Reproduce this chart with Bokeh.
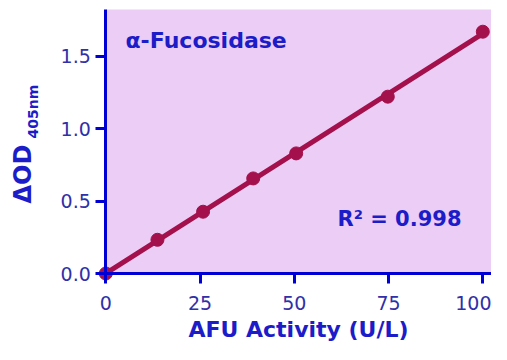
import numpy as np
from bokeh.plotting import figure
from bokeh.models import (Label, FixedTicker, NumeralTickFormatter, Range1d,
                          LinearAxis, BoxAnnotation)
from bokeh.embed import file_html
from bokeh.resources import INLINE

# Data
activity = [0, 13.7, 25.8, 39.1, 50.5, 74.8, 100]          # AFU activity (U/L)
delta_od = [0, 0.233, 0.427, 0.657, 0.830, 1.222, 1.671]    # ΔOD 405nm
x_ticks = [0, 25, 50, 75, 100]
y_ticks = [0.0, 0.5, 1.0, 1.5]
title_text = "α-Fucosidase"
r2_text = "R² = 0.998"
x_label = "AFU Activity (U/L)"
y_label_main = "ΔOD"
y_label_sub = "405nm"

FONT = "DejaVu Sans"
AXIS_BLUE = "#0000d4"
TEXT_BLUE = "#1c1cc8"
TICK_BLUE = "#3030a8"
LINE_COL = "#a3104c"
BG = "#ebcdf5"

W, H = 491, 344
X0_PX, PX_PER_X = 105.3, 3.77      # pixel of x=0, pixels per x unit
Y0_PX, PX_PER_Y = 273.0, 144.7     # pixel (from top) of y=0, pixels per y unit
X_TOP = 102.3                      # right end of plot area
Y_TOP = 1.824                      # top of plot area

p = figure(width=W, height=H, output_backend="svg", toolbar_location=None,
           x_axis_location=None, y_axis_location=None,
           x_range=Range1d(-X0_PX / PX_PER_X, (W - X0_PX) / PX_PER_X),
           y_range=Range1d((Y0_PX - H) / PX_PER_Y, Y0_PX / PX_PER_Y),
           min_border=0)
p.background_fill_color = "white"
p.border_fill_color = "white"
p.outline_line_color = None
p.grid.visible = False

p.add_layout(BoxAnnotation(left=0, right=X_TOP, bottom=0, top=Y_TOP,
                           fill_color=BG, fill_alpha=1.0, line_color=None,
                           level="underlay"))

# regression line from the data
slope, intercept = np.polyfit(activity, delta_od, 1)
fx = [min(activity), max(activity)]
fy = [intercept + slope * v for v in fx]
p.line(fx, fy, line_color=LINE_COL, line_width=5, line_cap="round")
p.scatter(activity, delta_od, size=13, fill_color=LINE_COL, line_color=LINE_COL)

xaxis = LinearAxis(fixed_location=0, bounds=(0, X_TOP))
yaxis = LinearAxis(fixed_location=0, bounds=(0, Y_TOP))
p.add_layout(xaxis, "below")
p.add_layout(yaxis, "left")

for ax in (xaxis, yaxis):
    ax.axis_line_color = AXIS_BLUE
    ax.axis_line_width = 3
    ax.major_tick_line_color = AXIS_BLUE
    ax.major_tick_line_width = 3
    ax.major_tick_in = 0
    ax.major_tick_out = 10
    ax.minor_tick_line_color = None
    ax.major_label_text_font = FONT
    ax.major_label_text_font_size = "19px"
    ax.major_label_text_color = TICK_BLUE

xaxis.ticker = FixedTicker(ticks=x_ticks)
yaxis.ticker = FixedTicker(ticks=y_ticks)
yaxis.formatter = NumeralTickFormatter(format="0.0")
xaxis.major_label_standoff = 12
yaxis.major_label_standoff = 5

xaxis.axis_label = x_label
xaxis.axis_label_text_font = FONT
xaxis.axis_label_text_font_style = "bold"
xaxis.axis_label_text_font_size = "22px"
xaxis.axis_label_text_color = TEXT_BLUE
xaxis.axis_label_standoff = 4

def lab(text, x, y, size, angle=0.0):
    p.add_layout(Label(x=x, y=y, x_units="screen", y_units="screen", text=text,
                       angle=angle, text_align="left", text_baseline="middle",
                       text_font=FONT, text_font_style="bold", text_font_size=size,
                       text_color=TEXT_BLUE))

lab(y_label_main, 22.5, H - 203, "24px", np.pi / 2)
lab(y_label_sub, 32, H - 138, "14px", np.pi / 2)
lab(title_text, 125, H - 39.5, "22px")
lab(r2_text, 337, H - 218, "21px")

open("out.html", "w").write(file_html(p, INLINE))
